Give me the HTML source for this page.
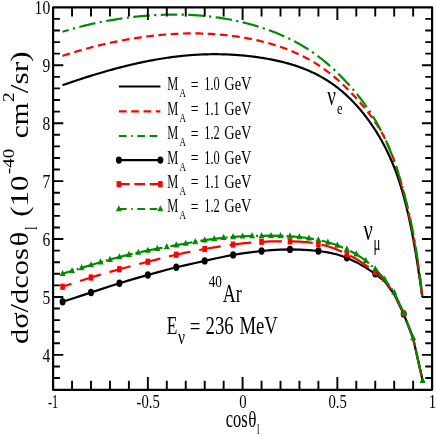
<!DOCTYPE html><html><head><meta charset="utf-8"><style>html,body{margin:0;padding:0;background:#fff}svg{display:block;will-change:transform}</style></head><body><svg width="436" height="436" viewBox="0 0 436 436">
<rect x="0" y="0" width="436" height="436" fill="#fff"/>
<path d="M62.50 85.21 L64.30 84.58 L66.10 83.95 L67.89 83.34 L69.68 82.72 L71.46 82.12 L73.24 81.52 L75.01 80.92 L76.78 80.33 L78.55 79.75 L80.31 79.17 L82.07 78.60 L83.82 78.03 L85.56 77.47 L87.31 76.92 L89.04 76.37 L90.78 75.83 L92.51 75.29 L94.23 74.77 L95.95 74.24 L97.67 73.72 L99.38 73.21 L101.08 72.71 L102.79 72.21 L104.48 71.72 L106.18 71.23 L107.86 70.75 L109.55 70.28 L111.23 69.82 L112.90 69.36 L114.57 68.90 L116.24 68.46 L117.90 68.02 L119.55 67.58 L121.21 67.16 L122.85 66.74 L124.50 66.32 L126.14 65.92 L127.77 65.52 L129.40 65.12 L131.02 64.74 L132.64 64.36 L134.26 63.99 L135.87 63.62 L137.48 63.26 L139.08 62.91 L140.68 62.57 L142.27 62.23 L143.86 61.90 L145.45 61.58 L147.03 61.26 L148.60 60.95 L150.17 60.65 L151.74 60.35 L153.30 60.06 L154.86 59.78 L156.41 59.51 L157.96 59.24 L159.50 58.98 L161.04 58.73 L162.57 58.48 L164.10 58.24 L165.63 58.01 L167.15 57.78 L168.67 57.56 L170.18 57.35 L171.69 57.15 L173.19 56.95 L174.69 56.76 L176.18 56.58 L177.67 56.40 L179.16 56.23 L180.64 56.07 L182.11 55.91 L183.58 55.76 L185.05 55.62 L186.51 55.49 L187.97 55.36 L189.42 55.24 L190.87 55.12 L192.32 55.02 L193.76 54.92 L195.19 54.82 L196.62 54.74 L198.05 54.66 L199.47 54.58 L200.89 54.51 L202.30 54.45 L203.71 54.40 L205.11 54.35 L206.51 54.31 L207.90 54.28 L209.29 54.25 L210.68 54.23 L212.06 54.21 L213.44 54.20 L214.81 54.20 L216.18 54.20 L217.54 54.21 L218.90 54.23 L220.25 54.25 L221.60 54.28 L222.94 54.31 L224.28 54.35 L225.62 54.39 L226.95 54.44 L228.28 54.50 L229.60 54.56 L230.92 54.63 L232.23 54.70 L233.54 54.78 L234.84 54.86 L236.14 54.95 L237.44 55.05 L238.73 55.14 L240.01 55.25 L241.30 55.36 L242.57 55.47 L243.85 55.59 L245.11 55.71 L246.38 55.84 L247.64 55.97 L248.89 56.11 L250.14 56.25 L251.38 56.40 L252.63 56.55 L253.86 56.71 L255.09 56.87 L256.32 57.04 L257.54 57.21 L258.76 57.38 L259.98 57.56 L261.18 57.75 L262.39 57.94 L263.59 58.13 L264.78 58.33 L265.98 58.54 L267.16 58.74 L268.34 58.96 L269.52 59.18 L270.69 59.40 L271.86 59.63 L273.03 59.86 L274.19 60.10 L275.34 60.34 L276.49 60.59 L277.64 60.84 L278.78 61.10 L279.92 61.36 L281.05 61.63 L282.18 61.91 L283.30 62.19 L284.42 62.48 L285.53 62.77 L286.64 63.07 L287.75 63.37 L288.85 63.68 L289.94 64.00 L291.03 64.32 L292.12 64.65 L293.20 64.98 L294.28 65.32 L295.36 65.67 L296.43 66.03 L297.49 66.39 L298.55 66.75 L299.60 67.13 L300.66 67.51 L301.70 67.89 L302.74 68.29 L303.78 68.69 L304.81 69.10 L305.84 69.51 L306.87 69.93 L307.89 70.36 L308.90 70.80 L309.91 71.24 L310.92 71.69 L311.92 72.15 L312.91 72.62 L313.91 73.09 L314.89 73.57 L315.88 74.06 L316.86 74.56 L317.83 75.06 L318.80 75.57 L319.76 76.09 L320.72 76.62 L321.68 77.15 L322.63 77.70 L323.58 78.25 L324.52 78.81 L325.46 79.37 L326.39 79.95 L327.32 80.53 L328.25 81.12 L329.17 81.72 L330.08 82.33 L330.99 82.94 L331.90 83.56 L332.80 84.19 L333.70 84.83 L334.59 85.48 L335.48 86.14 L336.36 86.80 L337.24 87.47 L338.12 88.15 L338.99 88.84 L339.85 89.53 L340.71 90.24 L341.57 90.95 L342.42 91.67 L343.27 92.40 L344.11 93.13 L344.95 93.88 L345.78 94.63 L346.61 95.39 L347.44 96.15 L348.26 96.93 L349.07 97.71 L349.89 98.50 L350.69 99.30 L351.50 100.10 L352.29 100.91 L353.09 101.73 L353.88 102.56 L354.66 103.39 L355.44 104.23 L356.21 105.08 L356.98 105.93 L357.75 106.79 L358.51 107.66 L359.27 108.53 L360.02 109.41 L360.77 110.29 L361.51 111.19 L362.25 112.09 L362.99 112.99 L363.72 113.90 L364.44 114.82 L365.16 115.74 L365.88 116.67 L366.59 117.61 L367.30 118.55 L368.00 119.50 L368.70 120.45 L369.39 121.41 L370.08 122.38 L370.77 123.35 L371.45 124.33 L372.12 125.31 L372.80 126.30 L373.46 127.30 L374.13 128.30 L374.78 129.31 L375.44 130.33 L376.08 131.35 L376.73 132.37 L377.37 133.41 L378.00 134.45 L378.63 135.49 L379.26 136.55 L379.88 137.61 L380.50 138.68 L381.11 139.75 L381.72 140.83 L382.32 141.92 L382.92 143.02 L383.52 144.12 L384.11 145.23 L384.69 146.35 L385.27 147.48 L385.85 148.61 L386.42 149.76 L386.99 150.91 L387.55 152.07 L388.11 153.24 L388.66 154.42 L389.21 155.61 L389.76 156.81 L390.30 158.01 L390.83 159.23 L391.36 160.46 L391.89 161.70 L392.41 162.94 L392.93 164.20 L393.44 165.47 L393.95 166.74 L394.45 168.03 L394.95 169.33 L395.45 170.64 L395.94 171.96 L396.42 173.29 L396.91 174.63 L397.38 175.98 L397.86 177.34 L398.32 178.71 L398.79 180.10 L399.25 181.49 L399.70 182.89 L400.15 184.30 L400.59 185.72 L401.04 187.16 L401.47 188.60 L401.90 190.05 L402.33 191.51 L402.75 192.98 L403.17 194.46 L403.58 195.94 L403.99 197.44 L404.40 198.94 L404.80 200.46 L405.19 201.97 L405.58 203.50 L405.97 205.03 L406.35 206.57 L406.73 208.12 L407.10 209.67 L407.47 211.23 L407.84 212.79 L408.20 214.35 L408.55 215.92 L408.90 217.49 L409.25 219.07 L409.59 220.65 L409.92 222.23 L410.26 223.81 L410.58 225.39 L410.91 226.97 L411.23 228.55 L411.54 230.12 L411.85 231.70 L412.15 233.27 L412.46 234.84 L412.75 236.41 L413.04 237.97 L413.33 239.52 L413.61 241.07 L413.89 242.61 L414.16 244.15 L414.43 245.67 L414.70 247.19 L414.96 248.69 L415.21 250.18 L415.46 251.67 L415.71 253.14 L415.95 254.59 L416.19 256.03 L416.42 257.46 L416.65 258.87 L416.87 260.26 L417.09 261.64 L417.31 263.00 L417.52 264.34 L417.72 265.66 L417.92 266.96 L418.12 268.24 L418.31 269.50 L418.50 270.73 L418.68 271.94 L418.86 273.13 L419.04 274.29 L419.21 275.43 L419.37 276.55 L419.53 277.63 L419.69 278.69 L419.84 279.73 L419.99 280.74 L420.13 281.71 L420.27 282.66 L420.40 283.59 L420.53 284.48 L420.65 285.34 L420.77 286.17 L420.89 286.98 L421.00 287.75 L421.10 288.49 L421.21 289.21 L421.30 289.89 L421.40 290.54 L421.48 291.15 L421.57 291.74 L421.65 292.30 L421.72 292.82 L421.79 293.32 L421.86 293.78 L421.92 294.21 L421.97 294.60 L422.03 294.97 L422.07 295.30 L422.12 295.61 L422.16 295.88 L422.19 296.11 L422.22 296.32 L422.24 296.50 L422.26 296.64 L422.28 296.75 L422.29 296.83 L422.30 296.88 L422.30 296.89" fill="none" stroke="#000" stroke-width="2.20" stroke-linejoin="round"/>
<path d="M62.50 55.90 L64.30 55.31 L66.10 54.73 L67.89 54.15 L69.68 53.59 L71.46 53.04 L73.24 52.49 L75.01 51.95 L76.78 51.43 L78.55 50.91 L80.31 50.40 L82.07 49.90 L83.82 49.40 L85.56 48.92 L87.31 48.44 L89.04 47.97 L90.78 47.51 L92.51 47.06 L94.23 46.62 L95.95 46.18 L97.67 45.76 L99.38 45.34 L101.08 44.93 L102.79 44.52 L104.48 44.13 L106.18 43.74 L107.86 43.36 L109.55 42.99 L111.23 42.63 L112.90 42.27 L114.57 41.92 L116.24 41.58 L117.90 41.24 L119.55 40.92 L121.21 40.60 L122.85 40.28 L124.50 39.98 L126.14 39.68 L127.77 39.39 L129.40 39.11 L131.02 38.83 L132.64 38.56 L134.26 38.30 L135.87 38.04 L137.48 37.79 L139.08 37.55 L140.68 37.32 L142.27 37.09 L143.86 36.87 L145.45 36.66 L147.03 36.45 L148.60 36.25 L150.17 36.06 L151.74 35.87 L153.30 35.69 L154.86 35.52 L156.41 35.35 L157.96 35.19 L159.50 35.04 L161.04 34.90 L162.57 34.76 L164.10 34.63 L165.63 34.50 L167.15 34.38 L168.67 34.27 L170.18 34.17 L171.69 34.07 L173.19 33.98 L174.69 33.89 L176.18 33.81 L177.67 33.74 L179.16 33.68 L180.64 33.62 L182.11 33.57 L183.58 33.52 L185.05 33.48 L186.51 33.45 L187.97 33.43 L189.42 33.41 L190.87 33.40 L192.32 33.39 L193.76 33.39 L195.19 33.40 L196.62 33.41 L198.05 33.43 L199.47 33.45 L200.89 33.49 L202.30 33.53 L203.71 33.57 L205.11 33.62 L206.51 33.68 L207.90 33.74 L209.29 33.81 L210.68 33.89 L212.06 33.97 L213.44 34.06 L214.81 34.15 L216.18 34.25 L217.54 34.36 L218.90 34.47 L220.25 34.58 L221.60 34.71 L222.94 34.84 L224.28 34.97 L225.62 35.11 L226.95 35.26 L228.28 35.41 L229.60 35.57 L230.92 35.73 L232.23 35.90 L233.54 36.08 L234.84 36.26 L236.14 36.44 L237.44 36.63 L238.73 36.83 L240.01 37.03 L241.30 37.24 L242.57 37.45 L243.85 37.67 L245.11 37.89 L246.38 38.12 L247.64 38.35 L248.89 38.59 L250.14 38.84 L251.38 39.08 L252.63 39.34 L253.86 39.60 L255.09 39.86 L256.32 40.13 L257.54 40.41 L258.76 40.69 L259.98 40.98 L261.18 41.27 L262.39 41.57 L263.59 41.87 L264.78 42.18 L265.98 42.49 L267.16 42.81 L268.34 43.13 L269.52 43.46 L270.69 43.79 L271.86 44.13 L273.03 44.48 L274.19 44.83 L275.34 45.19 L276.49 45.55 L277.64 45.92 L278.78 46.30 L279.92 46.68 L281.05 47.07 L282.18 47.46 L283.30 47.86 L284.42 48.26 L285.53 48.68 L286.64 49.09 L287.75 49.52 L288.85 49.95 L289.94 50.39 L291.03 50.83 L292.12 51.28 L293.20 51.74 L294.28 52.20 L295.36 52.67 L296.43 53.15 L297.49 53.63 L298.55 54.12 L299.60 54.62 L300.66 55.13 L301.70 55.64 L302.74 56.15 L303.78 56.68 L304.81 57.21 L305.84 57.75 L306.87 58.30 L307.89 58.85 L308.90 59.41 L309.91 59.98 L310.92 60.55 L311.92 61.14 L312.91 61.72 L313.91 62.32 L314.89 62.92 L315.88 63.53 L316.86 64.15 L317.83 64.77 L318.80 65.41 L319.76 66.04 L320.72 66.69 L321.68 67.34 L322.63 68.00 L323.58 68.67 L324.52 69.34 L325.46 70.02 L326.39 70.70 L327.32 71.40 L328.25 72.10 L329.17 72.80 L330.08 73.51 L330.99 74.23 L331.90 74.96 L332.80 75.69 L333.70 76.43 L334.59 77.17 L335.48 77.92 L336.36 78.68 L337.24 79.44 L338.12 80.21 L338.99 80.98 L339.85 81.76 L340.71 82.54 L341.57 83.33 L342.42 84.12 L343.27 84.92 L344.11 85.72 L344.95 86.53 L345.78 87.34 L346.61 88.15 L347.44 88.97 L348.26 89.79 L349.07 90.62 L349.89 91.45 L350.69 92.28 L351.50 93.12 L352.29 93.95 L353.09 94.80 L353.88 95.64 L354.66 96.49 L355.44 97.34 L356.21 98.19 L356.98 99.05 L357.75 99.91 L358.51 100.77 L359.27 101.63 L360.02 102.50 L360.77 103.36 L361.51 104.24 L362.25 105.11 L362.99 105.99 L363.72 106.87 L364.44 107.75 L365.16 108.64 L365.88 109.53 L366.59 110.42 L367.30 111.32 L368.00 112.22 L368.70 113.12 L369.39 114.03 L370.08 114.94 L370.77 115.86 L371.45 116.79 L372.12 117.72 L372.80 118.65 L373.46 119.59 L374.13 120.54 L374.78 121.50 L375.44 122.46 L376.08 123.43 L376.73 124.41 L377.37 125.40 L378.00 126.40 L378.63 127.41 L379.26 128.43 L379.88 129.46 L380.50 130.50 L381.11 131.56 L381.72 132.63 L382.32 133.71 L382.92 134.81 L383.52 135.92 L384.11 137.05 L384.69 138.19 L385.27 139.34 L385.85 140.52 L386.42 141.70 L386.99 142.91 L387.55 144.13 L388.11 145.36 L388.66 146.61 L389.21 147.88 L389.76 149.17 L390.30 150.47 L390.83 151.79 L391.36 153.12 L391.89 154.47 L392.41 155.84 L392.93 157.22 L393.44 158.61 L393.95 160.02 L394.45 161.45 L394.95 162.89 L395.45 164.34 L395.94 165.81 L396.42 167.29 L396.91 168.77 L397.38 170.28 L397.86 171.79 L398.32 173.31 L398.79 174.84 L399.25 176.37 L399.70 177.92 L400.15 179.47 L400.59 181.03 L401.04 182.60 L401.47 184.17 L401.90 185.74 L402.33 187.32 L402.75 188.91 L403.17 190.50 L403.58 192.09 L403.99 193.68 L404.40 195.28 L404.80 196.87 L405.19 198.47 L405.58 200.07 L405.97 201.67 L406.35 203.26 L406.73 204.86 L407.10 206.46 L407.47 208.05 L407.84 209.65 L408.20 211.24 L408.55 212.83 L408.90 214.42 L409.25 216.00 L409.59 217.58 L409.92 219.16 L410.26 220.73 L410.58 222.30 L410.91 223.87 L411.23 225.43 L411.54 226.99 L411.85 228.54 L412.15 230.08 L412.46 231.62 L412.75 233.16 L413.04 234.69 L413.33 236.21 L413.61 237.72 L413.89 239.23 L414.16 240.73 L414.43 242.22 L414.70 243.70 L414.96 245.17 L415.21 246.64 L415.46 248.09 L415.71 249.53 L415.95 250.97 L416.19 252.39 L416.42 253.80 L416.65 255.20 L416.87 256.59 L417.09 257.96 L417.31 259.32 L417.52 260.67 L417.72 262.00 L417.92 263.32 L418.12 264.62 L418.31 265.91 L418.50 267.18 L418.68 268.43 L418.86 269.67 L419.04 270.88 L419.21 272.08 L419.37 273.25 L419.53 274.41 L419.69 275.55 L419.84 276.66 L419.99 277.75 L420.13 278.82 L420.27 279.86 L420.40 280.88 L420.53 281.87 L420.65 282.83 L420.77 283.77 L420.89 284.68 L421.00 285.57 L421.10 286.42 L421.21 287.24 L421.30 288.04 L421.40 288.80 L421.48 289.53 L421.57 290.22 L421.65 290.88 L421.72 291.51 L421.79 292.11 L421.86 292.67 L421.92 293.19 L421.97 293.67 L422.03 294.12 L422.07 294.54 L422.12 294.91 L422.16 295.25 L422.19 295.54 L422.22 295.80 L422.24 296.02 L422.26 296.20 L422.28 296.34 L422.29 296.44 L422.30 296.50 L422.30 296.52" fill="none" stroke="#ff0000" stroke-width="2.20" stroke-linejoin="round" stroke-dasharray="7.7 4.6" stroke-dashoffset="0"/>
<path d="M62.50 31.82 L64.30 31.26 L66.10 30.71 L67.89 30.18 L69.68 29.65 L71.46 29.14 L73.24 28.64 L75.01 28.14 L76.78 27.66 L78.55 27.19 L80.31 26.73 L82.07 26.28 L83.82 25.85 L85.56 25.42 L87.31 25.00 L89.04 24.59 L90.78 24.19 L92.51 23.80 L94.23 23.42 L95.95 23.05 L97.67 22.69 L99.38 22.33 L101.08 21.99 L102.79 21.66 L104.48 21.33 L106.18 21.01 L107.86 20.71 L109.55 20.41 L111.23 20.12 L112.90 19.83 L114.57 19.56 L116.24 19.29 L117.90 19.03 L119.55 18.78 L121.21 18.54 L122.85 18.30 L124.50 18.08 L126.14 17.86 L127.77 17.65 L129.40 17.44 L131.02 17.24 L132.64 17.05 L134.26 16.87 L135.87 16.69 L137.48 16.53 L139.08 16.37 L140.68 16.21 L142.27 16.06 L143.86 15.92 L145.45 15.79 L147.03 15.66 L148.60 15.55 L150.17 15.43 L151.74 15.33 L153.30 15.23 L154.86 15.14 L156.41 15.05 L157.96 14.97 L159.50 14.90 L161.04 14.84 L162.57 14.78 L164.10 14.73 L165.63 14.69 L167.15 14.65 L168.67 14.62 L170.18 14.60 L171.69 14.58 L173.19 14.57 L174.69 14.57 L176.18 14.57 L177.67 14.58 L179.16 14.59 L180.64 14.62 L182.11 14.65 L183.58 14.68 L185.05 14.73 L186.51 14.78 L187.97 14.83 L189.42 14.90 L190.87 14.96 L192.32 15.04 L193.76 15.12 L195.19 15.21 L196.62 15.31 L198.05 15.41 L199.47 15.52 L200.89 15.63 L202.30 15.75 L203.71 15.88 L205.11 16.01 L206.51 16.15 L207.90 16.30 L209.29 16.45 L210.68 16.61 L212.06 16.78 L213.44 16.95 L214.81 17.13 L216.18 17.31 L217.54 17.50 L218.90 17.70 L220.25 17.90 L221.60 18.11 L222.94 18.32 L224.28 18.54 L225.62 18.77 L226.95 19.00 L228.28 19.24 L229.60 19.49 L230.92 19.74 L232.23 19.99 L233.54 20.26 L234.84 20.52 L236.14 20.80 L237.44 21.08 L238.73 21.36 L240.01 21.66 L241.30 21.95 L242.57 22.26 L243.85 22.57 L245.11 22.88 L246.38 23.20 L247.64 23.53 L248.89 23.86 L250.14 24.20 L251.38 24.54 L252.63 24.89 L253.86 25.25 L255.09 25.61 L256.32 25.97 L257.54 26.34 L258.76 26.72 L259.98 27.10 L261.18 27.49 L262.39 27.88 L263.59 28.28 L264.78 28.68 L265.98 29.09 L267.16 29.51 L268.34 29.93 L269.52 30.36 L270.69 30.79 L271.86 31.23 L273.03 31.67 L274.19 32.12 L275.34 32.57 L276.49 33.03 L277.64 33.50 L278.78 33.97 L279.92 34.45 L281.05 34.94 L282.18 35.43 L283.30 35.92 L284.42 36.42 L285.53 36.93 L286.64 37.45 L287.75 37.97 L288.85 38.50 L289.94 39.03 L291.03 39.57 L292.12 40.12 L293.20 40.67 L294.28 41.23 L295.36 41.80 L296.43 42.37 L297.49 42.95 L298.55 43.54 L299.60 44.13 L300.66 44.73 L301.70 45.34 L302.74 45.96 L303.78 46.58 L304.81 47.21 L305.84 47.84 L306.87 48.49 L307.89 49.14 L308.90 49.80 L309.91 50.46 L310.92 51.13 L311.92 51.81 L312.91 52.50 L313.91 53.20 L314.89 53.90 L315.88 54.61 L316.86 55.32 L317.83 56.04 L318.80 56.77 L319.76 57.51 L320.72 58.25 L321.68 59.01 L322.63 59.76 L323.58 60.53 L324.52 61.30 L325.46 62.07 L326.39 62.86 L327.32 63.65 L328.25 64.44 L329.17 65.24 L330.08 66.05 L330.99 66.86 L331.90 67.68 L332.80 68.50 L333.70 69.33 L334.59 70.17 L335.48 71.00 L336.36 71.85 L337.24 72.69 L338.12 73.55 L338.99 74.40 L339.85 75.26 L340.71 76.13 L341.57 76.99 L342.42 77.87 L343.27 78.74 L344.11 79.62 L344.95 80.51 L345.78 81.39 L346.61 82.28 L347.44 83.18 L348.26 84.07 L349.07 84.98 L349.89 85.88 L350.69 86.79 L351.50 87.70 L352.29 88.62 L353.09 89.53 L353.88 90.46 L354.66 91.38 L355.44 92.31 L356.21 93.25 L356.98 94.19 L357.75 95.13 L358.51 96.08 L359.27 97.03 L360.02 97.98 L360.77 98.95 L361.51 99.91 L362.25 100.88 L362.99 101.86 L363.72 102.84 L364.44 103.83 L365.16 104.83 L365.88 105.83 L366.59 106.83 L367.30 107.84 L368.00 108.86 L368.70 109.89 L369.39 110.92 L370.08 111.96 L370.77 113.01 L371.45 114.06 L372.12 115.12 L372.80 116.19 L373.46 117.27 L374.13 118.35 L374.78 119.44 L375.44 120.54 L376.08 121.65 L376.73 122.76 L377.37 123.89 L378.00 125.02 L378.63 126.16 L379.26 127.31 L379.88 128.47 L380.50 129.64 L381.11 130.82 L381.72 132.00 L382.32 133.20 L382.92 134.40 L383.52 135.61 L384.11 136.84 L384.69 138.07 L385.27 139.31 L385.85 140.56 L386.42 141.82 L386.99 143.09 L387.55 144.37 L388.11 145.66 L388.66 146.96 L389.21 148.27 L389.76 149.59 L390.30 150.92 L390.83 152.26 L391.36 153.60 L391.89 154.96 L392.41 156.32 L392.93 157.70 L393.44 159.08 L393.95 160.48 L394.45 161.88 L394.95 163.29 L395.45 164.71 L395.94 166.13 L396.42 167.57 L396.91 169.01 L397.38 170.46 L397.86 171.92 L398.32 173.38 L398.79 174.85 L399.25 176.33 L399.70 177.81 L400.15 179.30 L400.59 180.80 L401.04 182.30 L401.47 183.80 L401.90 185.31 L402.33 186.82 L402.75 188.33 L403.17 189.85 L403.58 191.37 L403.99 192.89 L404.40 194.41 L404.80 195.93 L405.19 197.46 L405.58 198.98 L405.97 200.51 L406.35 202.03 L406.73 203.56 L407.10 205.09 L407.47 206.61 L407.84 208.14 L408.20 209.67 L408.55 211.19 L408.90 212.72 L409.25 214.24 L409.59 215.77 L409.92 217.30 L410.26 218.82 L410.58 220.34 L410.91 221.87 L411.23 223.39 L411.54 224.91 L411.85 226.44 L412.15 227.96 L412.46 229.48 L412.75 231.00 L413.04 232.51 L413.33 234.03 L413.61 235.54 L413.89 237.05 L414.16 238.56 L414.43 240.06 L414.70 241.56 L414.96 243.06 L415.21 244.54 L415.46 246.03 L415.71 247.51 L415.95 248.98 L416.19 250.44 L416.42 251.89 L416.65 253.34 L416.87 254.78 L417.09 256.20 L417.31 257.62 L417.52 259.02 L417.72 260.41 L417.92 261.78 L418.12 263.15 L418.31 264.49 L418.50 265.82 L418.68 267.14 L418.86 268.43 L419.04 269.71 L419.21 270.96 L419.37 272.20 L419.53 273.41 L419.69 274.61 L419.84 275.78 L419.99 276.92 L420.13 278.04 L420.27 279.13 L420.40 280.20 L420.53 281.24 L420.65 282.25 L420.77 283.23 L420.89 284.19 L421.00 285.11 L421.10 286.00 L421.21 286.85 L421.30 287.68 L421.40 288.47 L421.48 289.23 L421.57 289.95 L421.65 290.63 L421.72 291.28 L421.79 291.90 L421.86 292.47 L421.92 293.01 L421.97 293.51 L422.03 293.97 L422.07 294.40 L422.12 294.78 L422.16 295.13 L422.19 295.43 L422.22 295.70 L422.24 295.92 L422.26 296.10 L422.28 296.25 L422.29 296.35 L422.30 296.41 L422.30 296.43" fill="none" stroke="#008a00" stroke-width="2.20" stroke-linejoin="round" stroke-dasharray="16.5 4.4 2.2 4.4" stroke-dashoffset="10"/>
<path d="M62.58 301.75 L72.05 298.76 L81.53 295.66 L91.00 292.50 L100.48 289.34 L109.95 286.24 L119.43 283.25 L128.90 280.41 L138.38 277.68 L147.85 275.00 L157.33 272.33 L166.80 269.74 L176.28 267.30 L185.75 265.07 L195.23 262.97 L204.70 260.90 L214.18 258.80 L223.65 256.76 L233.13 254.90 L242.60 253.33 L252.08 252.04 L261.55 251.00 L271.03 250.18 L280.50 249.63 L289.98 249.40 L299.45 249.54 L308.93 250.07 L318.40 251.00 L327.88 252.39 L337.35 254.51 L346.83 257.70 L356.30 262.16 L365.78 267.65 L375.25 273.80 L384.73 281.30 L394.20 294.30 L403.68 313.90 L413.15 338.60 L422.62 380.60" fill="none" stroke="#000" stroke-width="2.20" stroke-linejoin="round"/>
<path d="M62.58 286.75 L72.05 283.55 L81.53 280.47 L91.00 277.50 L100.48 274.65 L109.95 271.90 L119.43 269.25 L128.90 266.70 L138.38 264.21 L147.85 261.75 L157.33 259.31 L166.80 256.94 L176.28 254.70 L185.75 252.64 L195.23 250.74 L204.70 249.00 L214.18 247.39 L223.65 245.92 L233.13 244.60 L242.60 243.44 L252.08 242.49 L261.55 241.80 L271.03 241.42 L280.50 241.30 L289.98 241.40 L299.45 241.71 L308.93 242.45 L318.40 243.90 L327.88 246.29 L337.35 249.64 L346.83 253.90 L356.30 259.04 L365.78 265.07 L375.25 272.00 L384.73 280.40 L394.20 293.40 L403.68 313.50 L413.15 338.20 L422.62 380.60" fill="none" stroke="#ff0000" stroke-width="2.20" stroke-linejoin="round" stroke-dasharray="21.8 9" stroke-dashoffset="12.4"/>
<path d="M62.58 273.75 L72.05 270.81 L81.53 267.88 L91.00 265.00 L100.48 262.20 L109.95 259.52 L119.43 257.00 L128.90 254.66 L138.38 252.49 L147.85 250.50 L157.33 248.66 L166.80 246.92 L176.28 245.20 L185.75 243.47 L195.23 241.78 L204.70 240.20 L214.18 238.81 L223.65 237.66 L233.13 236.80 L242.60 236.26 L252.08 235.96 L261.55 235.80 L271.03 235.72 L280.50 235.81 L289.98 236.20 L299.45 237.00 L308.93 238.25 L318.40 240.00 L327.88 242.30 L337.35 245.31 L346.83 249.20 L356.30 254.18 L365.78 260.64 L375.25 269.00 L384.73 279.30 L394.20 292.30 L403.68 313.10 L413.15 337.80 L422.62 380.60" fill="none" stroke="#008a00" stroke-width="2.20" stroke-linejoin="round" stroke-dasharray="22.5 3 2 3" stroke-dashoffset="10.7"/>
<ellipse cx="62.58" cy="301.75" rx="3.0" ry="3.7" fill="#000"/>
<ellipse cx="91.00" cy="292.50" rx="3.0" ry="3.7" fill="#000"/>
<ellipse cx="119.43" cy="283.25" rx="3.0" ry="3.7" fill="#000"/>
<ellipse cx="147.85" cy="275.00" rx="3.0" ry="3.7" fill="#000"/>
<ellipse cx="176.28" cy="267.30" rx="3.0" ry="3.7" fill="#000"/>
<ellipse cx="204.70" cy="260.90" rx="3.0" ry="3.7" fill="#000"/>
<ellipse cx="233.13" cy="254.90" rx="3.0" ry="3.7" fill="#000"/>
<ellipse cx="261.55" cy="251.00" rx="3.0" ry="3.7" fill="#000"/>
<ellipse cx="289.98" cy="249.40" rx="3.0" ry="3.7" fill="#000"/>
<ellipse cx="318.40" cy="251.00" rx="3.0" ry="3.7" fill="#000"/>
<ellipse cx="346.83" cy="257.70" rx="3.0" ry="3.7" fill="#000"/>
<ellipse cx="375.25" cy="273.80" rx="3.0" ry="3.7" fill="#000"/>
<ellipse cx="403.68" cy="313.90" rx="3.0" ry="3.7" fill="#000"/>
<rect x="60.28" y="283.65" width="4.6" height="6.2" fill="#ff0000"/>
<rect x="88.70" y="274.40" width="4.6" height="6.2" fill="#ff0000"/>
<rect x="117.13" y="266.15" width="4.6" height="6.2" fill="#ff0000"/>
<rect x="145.55" y="258.65" width="4.6" height="6.2" fill="#ff0000"/>
<rect x="173.98" y="251.60" width="4.6" height="6.2" fill="#ff0000"/>
<rect x="202.40" y="245.90" width="4.6" height="6.2" fill="#ff0000"/>
<rect x="230.83" y="241.50" width="4.6" height="6.2" fill="#ff0000"/>
<rect x="259.25" y="238.70" width="4.6" height="6.2" fill="#ff0000"/>
<rect x="287.68" y="238.30" width="4.6" height="6.2" fill="#ff0000"/>
<rect x="316.10" y="240.80" width="4.6" height="6.2" fill="#ff0000"/>
<rect x="344.53" y="250.80" width="4.6" height="6.2" fill="#ff0000"/>
<rect x="372.95" y="268.90" width="4.6" height="6.2" fill="#ff0000"/>
<rect x="401.38" y="310.40" width="4.6" height="6.2" fill="#ff0000"/>
<path d="M62.58 269.91 L59.58 276.11 L65.58 276.11 Z" fill="#008a00"/>
<path d="M72.05 266.96 L69.05 273.16 L75.05 273.16 Z" fill="#008a00"/>
<path d="M81.53 264.04 L78.53 270.24 L84.53 270.24 Z" fill="#008a00"/>
<path d="M91.00 261.16 L88.00 267.36 L94.00 267.36 Z" fill="#008a00"/>
<path d="M100.48 258.36 L97.48 264.56 L103.48 264.56 Z" fill="#008a00"/>
<path d="M109.95 255.68 L106.95 261.88 L112.95 261.88 Z" fill="#008a00"/>
<path d="M119.43 253.16 L116.43 259.36 L122.43 259.36 Z" fill="#008a00"/>
<path d="M128.90 250.81 L125.90 257.01 L131.90 257.01 Z" fill="#008a00"/>
<path d="M138.38 248.65 L135.38 254.85 L141.38 254.85 Z" fill="#008a00"/>
<path d="M147.85 246.66 L144.85 252.86 L150.85 252.86 Z" fill="#008a00"/>
<path d="M157.33 244.82 L154.33 251.02 L160.33 251.02 Z" fill="#008a00"/>
<path d="M166.80 243.07 L163.80 249.27 L169.80 249.27 Z" fill="#008a00"/>
<path d="M176.28 241.36 L173.28 247.56 L179.28 247.56 Z" fill="#008a00"/>
<path d="M185.75 239.63 L182.75 245.83 L188.75 245.83 Z" fill="#008a00"/>
<path d="M195.23 237.93 L192.23 244.13 L198.23 244.13 Z" fill="#008a00"/>
<path d="M204.70 236.36 L201.70 242.56 L207.70 242.56 Z" fill="#008a00"/>
<path d="M214.18 234.96 L211.18 241.16 L217.18 241.16 Z" fill="#008a00"/>
<path d="M223.65 233.81 L220.65 240.01 L226.65 240.01 Z" fill="#008a00"/>
<path d="M233.13 232.96 L230.13 239.16 L236.13 239.16 Z" fill="#008a00"/>
<path d="M242.60 232.41 L239.60 238.61 L245.60 238.61 Z" fill="#008a00"/>
<path d="M252.08 232.11 L249.08 238.31 L255.08 238.31 Z" fill="#008a00"/>
<path d="M261.55 231.96 L258.55 238.16 L264.55 238.16 Z" fill="#008a00"/>
<path d="M271.03 231.88 L268.03 238.08 L274.03 238.08 Z" fill="#008a00"/>
<path d="M280.50 231.97 L277.50 238.17 L283.50 238.17 Z" fill="#008a00"/>
<path d="M289.98 232.36 L286.98 238.56 L292.98 238.56 Z" fill="#008a00"/>
<path d="M299.45 233.15 L296.45 239.35 L302.45 239.35 Z" fill="#008a00"/>
<path d="M308.93 234.41 L305.93 240.61 L311.93 240.61 Z" fill="#008a00"/>
<path d="M318.40 236.16 L315.40 242.36 L321.40 242.36 Z" fill="#008a00"/>
<path d="M327.88 238.46 L324.88 244.66 L330.88 244.66 Z" fill="#008a00"/>
<path d="M337.35 241.47 L334.35 247.67 L340.35 247.67 Z" fill="#008a00"/>
<path d="M346.83 245.36 L343.83 251.56 L349.83 251.56 Z" fill="#008a00"/>
<path d="M356.30 250.34 L353.30 256.54 L359.30 256.54 Z" fill="#008a00"/>
<path d="M365.78 256.80 L362.78 263.00 L368.78 263.00 Z" fill="#008a00"/>
<path d="M375.25 265.16 L372.25 271.36 L378.25 271.36 Z" fill="#008a00"/>
<path d="M384.73 275.46 L381.73 281.66 L387.73 281.66 Z" fill="#008a00"/>
<path d="M394.20 288.46 L391.20 294.66 L397.20 294.66 Z" fill="#008a00"/>
<path d="M403.68 309.26 L400.68 315.46 L406.68 315.46 Z" fill="#008a00"/>
<path d="M413.15 333.96 L410.15 340.16 L416.15 340.16 Z" fill="#008a00"/>
<path d="M422.62 376.76 L419.62 382.96 L425.62 382.96 Z" fill="#008a00"/>
<rect x="53.10" y="7.30" width="379.00" height="382.50" fill="none" stroke="#000" stroke-width="2.2" stroke-linejoin="round"/>
<path d="M72.05 389.80 v-9.10 M72.05 7.30 v9.10 M91.00 389.80 v-9.10 M91.00 7.30 v9.10 M109.95 389.80 v-9.10 M109.95 7.30 v9.10 M128.90 389.80 v-9.10 M128.90 7.30 v9.10 M147.85 389.80 v-12.80 M147.85 7.30 v12.80 M166.80 389.80 v-9.10 M166.80 7.30 v9.10 M185.75 389.80 v-9.10 M185.75 7.30 v9.10 M204.70 389.80 v-9.10 M204.70 7.30 v9.10 M223.65 389.80 v-9.10 M223.65 7.30 v9.10 M242.60 389.80 v-12.80 M242.60 7.30 v12.80 M261.55 389.80 v-9.10 M261.55 7.30 v9.10 M280.50 389.80 v-9.10 M280.50 7.30 v9.10 M299.45 389.80 v-9.10 M299.45 7.30 v9.10 M318.40 389.80 v-9.10 M318.40 7.30 v9.10 M337.35 389.80 v-12.80 M337.35 7.30 v12.80 M356.30 389.80 v-9.10 M356.30 7.30 v9.10 M375.25 389.80 v-9.10 M375.25 7.30 v9.10 M394.20 389.80 v-9.10 M394.20 7.30 v9.10 M413.15 389.80 v-9.10 M413.15 7.30 v9.10 M53.10 378.07 h6.80 M432.10 378.07 h-6.80 M53.10 366.49 h6.80 M432.10 366.49 h-6.80 M53.10 354.90 h10.20 M432.10 354.90 h-10.20 M53.10 343.31 h6.80 M432.10 343.31 h-6.80 M53.10 331.73 h6.80 M432.10 331.73 h-6.80 M53.10 320.14 h6.80 M432.10 320.14 h-6.80 M53.10 308.56 h6.80 M432.10 308.56 h-6.80 M53.10 296.97 h10.20 M432.10 296.97 h-10.20 M53.10 285.38 h6.80 M432.10 285.38 h-6.80 M53.10 273.80 h6.80 M432.10 273.80 h-6.80 M53.10 262.21 h6.80 M432.10 262.21 h-6.80 M53.10 250.63 h6.80 M432.10 250.63 h-6.80 M53.10 239.04 h10.20 M432.10 239.04 h-10.20 M53.10 227.45 h6.80 M432.10 227.45 h-6.80 M53.10 215.87 h6.80 M432.10 215.87 h-6.80 M53.10 204.28 h6.80 M432.10 204.28 h-6.80 M53.10 192.70 h6.80 M432.10 192.70 h-6.80 M53.10 181.11 h10.20 M432.10 181.11 h-10.20 M53.10 169.52 h6.80 M432.10 169.52 h-6.80 M53.10 157.94 h6.80 M432.10 157.94 h-6.80 M53.10 146.35 h6.80 M432.10 146.35 h-6.80 M53.10 134.77 h6.80 M432.10 134.77 h-6.80 M53.10 123.18 h10.20 M432.10 123.18 h-10.20 M53.10 111.59 h6.80 M432.10 111.59 h-6.80 M53.10 100.01 h6.80 M432.10 100.01 h-6.80 M53.10 88.42 h6.80 M432.10 88.42 h-6.80 M53.10 76.84 h6.80 M432.10 76.84 h-6.80 M53.10 65.25 h10.20 M432.10 65.25 h-10.20 M53.10 53.66 h6.80 M432.10 53.66 h-6.80 M53.10 42.08 h6.80 M432.10 42.08 h-6.80 M53.10 30.49 h6.80 M432.10 30.49 h-6.80 M53.10 18.91 h6.80 M432.10 18.91 h-6.80" stroke="#000" stroke-width="1.90" fill="none"/>
<text transform="translate(42.40 361.60) scale(0.8000 1)" font-family="Liberation Serif, serif" font-size="19.50" fill="#000">4</text>
<text transform="translate(42.40 303.67) scale(0.8000 1)" font-family="Liberation Serif, serif" font-size="19.50" fill="#000">5</text>
<text transform="translate(42.40 245.74) scale(0.8000 1)" font-family="Liberation Serif, serif" font-size="19.50" fill="#000">6</text>
<text transform="translate(42.40 187.81) scale(0.8000 1)" font-family="Liberation Serif, serif" font-size="19.50" fill="#000">7</text>
<text transform="translate(42.40 129.88) scale(0.8000 1)" font-family="Liberation Serif, serif" font-size="19.50" fill="#000">8</text>
<text transform="translate(42.40 71.95) scale(0.8000 1)" font-family="Liberation Serif, serif" font-size="19.50" fill="#000">9</text>
<text transform="translate(34.60 14.02) scale(0.8000 1)" font-family="Liberation Serif, serif" font-size="19.50" fill="#000">10</text>
<text transform="translate(48.00 408.00) scale(0.6302 1)" font-family="Liberation Serif, serif" font-size="19.50" fill="#000">-1</text>
<text transform="translate(136.52 408.00) scale(0.7550 1)" font-family="Liberation Serif, serif" font-size="19.50" fill="#000">-0.5</text>
<text transform="translate(239.22 408.00) scale(0.7550 1)" font-family="Liberation Serif, serif" font-size="19.50" fill="#000">0</text>
<text transform="translate(328.45 408.00) scale(0.7550 1)" font-family="Liberation Serif, serif" font-size="19.50" fill="#000">0.5</text>
<text transform="translate(428.72 408.00) scale(0.7550 1)" font-family="Liberation Serif, serif" font-size="19.50" fill="#000">1</text>
<text transform="translate(167.30 89.90) scale(0.6437 1)" font-family="Liberation Serif, serif" font-size="19.20" fill="#000">M</text>
<text transform="translate(179.60 96.90) scale(0.6614 1)" font-family="Liberation Serif, serif" font-size="13.44" fill="#000">A</text>
<text transform="translate(190.70 90.50) scale(0.7161 1)" font-family="Liberation Serif, serif" font-size="19.20" fill="#000">=</text>
<text transform="translate(204.30 89.90) scale(0.6458 1)" font-family="Liberation Serif, serif" font-size="19.20" fill="#000">1.0</text>
<text transform="translate(224.30 89.90) scale(0.7523 1)" font-family="Liberation Serif, serif" font-size="19.20" fill="#000">GeV</text>
<text transform="translate(167.30 114.70) scale(0.6437 1)" font-family="Liberation Serif, serif" font-size="19.20" fill="#000">M</text>
<text transform="translate(179.60 121.70) scale(0.6614 1)" font-family="Liberation Serif, serif" font-size="13.44" fill="#000">A</text>
<text transform="translate(190.70 115.30) scale(0.7161 1)" font-family="Liberation Serif, serif" font-size="19.20" fill="#000">=</text>
<text transform="translate(204.30 114.70) scale(0.6458 1)" font-family="Liberation Serif, serif" font-size="19.20" fill="#000">1.1</text>
<text transform="translate(224.30 114.70) scale(0.7523 1)" font-family="Liberation Serif, serif" font-size="19.20" fill="#000">GeV</text>
<text transform="translate(167.30 139.40) scale(0.6437 1)" font-family="Liberation Serif, serif" font-size="19.20" fill="#000">M</text>
<text transform="translate(179.60 146.40) scale(0.6614 1)" font-family="Liberation Serif, serif" font-size="13.44" fill="#000">A</text>
<text transform="translate(190.70 140.00) scale(0.7161 1)" font-family="Liberation Serif, serif" font-size="19.20" fill="#000">=</text>
<text transform="translate(204.30 139.40) scale(0.6458 1)" font-family="Liberation Serif, serif" font-size="19.20" fill="#000">1.2</text>
<text transform="translate(224.30 139.40) scale(0.7523 1)" font-family="Liberation Serif, serif" font-size="19.20" fill="#000">GeV</text>
<text transform="translate(167.30 163.50) scale(0.6437 1)" font-family="Liberation Serif, serif" font-size="19.20" fill="#000">M</text>
<text transform="translate(179.60 170.50) scale(0.6614 1)" font-family="Liberation Serif, serif" font-size="13.44" fill="#000">A</text>
<text transform="translate(190.70 164.10) scale(0.7161 1)" font-family="Liberation Serif, serif" font-size="19.20" fill="#000">=</text>
<text transform="translate(204.30 163.50) scale(0.6458 1)" font-family="Liberation Serif, serif" font-size="19.20" fill="#000">1.0</text>
<text transform="translate(224.30 163.50) scale(0.7523 1)" font-family="Liberation Serif, serif" font-size="19.20" fill="#000">GeV</text>
<text transform="translate(167.30 187.60) scale(0.6437 1)" font-family="Liberation Serif, serif" font-size="19.20" fill="#000">M</text>
<text transform="translate(179.60 194.60) scale(0.6614 1)" font-family="Liberation Serif, serif" font-size="13.44" fill="#000">A</text>
<text transform="translate(190.70 188.20) scale(0.7161 1)" font-family="Liberation Serif, serif" font-size="19.20" fill="#000">=</text>
<text transform="translate(204.30 187.60) scale(0.6458 1)" font-family="Liberation Serif, serif" font-size="19.20" fill="#000">1.1</text>
<text transform="translate(224.30 187.60) scale(0.7523 1)" font-family="Liberation Serif, serif" font-size="19.20" fill="#000">GeV</text>
<text transform="translate(167.30 212.40) scale(0.6437 1)" font-family="Liberation Serif, serif" font-size="19.20" fill="#000">M</text>
<text transform="translate(179.60 219.40) scale(0.6614 1)" font-family="Liberation Serif, serif" font-size="13.44" fill="#000">A</text>
<text transform="translate(190.70 213.00) scale(0.7161 1)" font-family="Liberation Serif, serif" font-size="19.20" fill="#000">=</text>
<text transform="translate(204.30 212.40) scale(0.6458 1)" font-family="Liberation Serif, serif" font-size="19.20" fill="#000">1.2</text>
<text transform="translate(224.30 212.40) scale(0.7523 1)" font-family="Liberation Serif, serif" font-size="19.20" fill="#000">GeV</text>
<path d="M118.90 86.50 H160.40" stroke="#000" stroke-width="2.20"/>
<path d="M118.90 111.30 H160.40" stroke="#ff0000" stroke-width="2.20" stroke-dasharray="7.7 4.6"/>
<path d="M118.90 136.00 H157.90" stroke="#008a00" stroke-width="2.20" stroke-dasharray="7.7 4.6 1.54 4.6 7.7 4.6"/>
<path d="M118.90 160.10 H160.40" stroke="#000" stroke-width="2.20"/>
<path d="M118.90 184.20 H160.40" stroke="#ff0000" stroke-width="2.20" stroke-dasharray="10.8 4.6"/>
<path d="M118.90 209.00 H160.40" stroke="#008a00" stroke-width="2.20" stroke-dasharray="7.7 4.6 1.54 4.6 7.7 4.6"/>
<ellipse cx="118.90" cy="160.10" rx="3.0" ry="3.7" fill="#000"/>
<ellipse cx="160.40" cy="160.10" rx="3.0" ry="3.7" fill="#000"/>
<rect x="116.60" y="181.10" width="4.6" height="6.2" fill="#ff0000"/>
<rect x="158.10" y="181.10" width="4.6" height="6.2" fill="#ff0000"/>
<path d="M118.90 205.16 L115.90 211.36 L121.90 211.36 Z" fill="#008a00"/>
<path d="M160.40 205.16 L157.40 211.36 L163.40 211.36 Z" fill="#008a00"/>
<text transform="translate(327.30 104.60) scale(0.7155 1)" font-family="Liberation Serif, serif" font-size="26.71" fill="#000">ν</text>
<text transform="translate(337.10 113.60) scale(0.7086 1)" font-family="Liberation Serif, serif" font-size="17.64" fill="#000">e</text>
<text transform="translate(363.60 239.70) scale(0.7117 1)" font-family="Liberation Serif, serif" font-size="28.73" fill="#000">ν</text>
<text transform="translate(373.60 250.00) scale(0.6430 1)" font-family="Liberation Serif, serif" font-size="20.16" fill="#000">μ</text>
<text transform="translate(208.70 287.20) scale(0.7591 1)" font-family="Liberation Serif, serif" font-size="17.39" fill="#000">40</text>
<text transform="translate(222.80 301.90) scale(0.7150 1)" font-family="Liberation Serif, serif" font-size="25.20" fill="#000">Ar</text>
<text transform="translate(166.80 334.10) scale(0.6896 1)" font-family="Liberation Serif, serif" font-size="25.20" fill="#000">E</text>
<text transform="translate(178.00 343.80) scale(0.7716 1)" font-family="Liberation Serif, serif" font-size="20.16" fill="#000">ν</text>
<text transform="translate(189.80 335.00) scale(0.7511 1)" font-family="Liberation Serif, serif" font-size="25.20" fill="#000">=</text>
<text transform="translate(205.60 334.10) scale(0.7434 1)" font-family="Liberation Serif, serif" font-size="25.20" fill="#000">236</text>
<text transform="translate(239.50 334.10) scale(0.7397 1)" font-family="Liberation Serif, serif" font-size="25.20" fill="#000">MeV</text>
<text transform="translate(225.80 426.80) scale(0.6748 1)" font-family="Liberation Serif, serif" font-size="24.40" fill="#000">cos</text>
<text transform="translate(248.20 426.80) scale(0.7528 1)" font-family="Liberation Serif, serif" font-size="22.69" fill="#000">θ</text>
<text transform="translate(257.00 434.40) scale(0.5714 1)" font-family="Liberation Serif, serif" font-size="15.00" fill="#000">l</text>
<text transform="translate(27.60 344.00) rotate(-90) scale(1.0487 0.8600)" font-family="Liberation Serif, serif" font-size="29.00" fill="#000">dσ/dcos</text>
<text transform="translate(27.60 246.50) rotate(-90) scale(1.0632 0.8600)" font-family="Liberation Serif, serif" font-size="29.00" fill="#000">θ</text>
<text transform="translate(36.90 229.80) rotate(-90) scale(0.5630 0.8600)" font-family="Liberation Serif, serif" font-size="20.30" fill="#000">l</text>
<text transform="translate(27.60 216.80) rotate(-90) scale(1.0682 0.8600)" font-family="Liberation Serif, serif" font-size="29.00" fill="#000">(10</text>
<text transform="translate(14.40 174.00) rotate(-90) scale(0.9260 0.8600)" font-family="Liberation Serif, serif" font-size="20.30" fill="#000">-40</text>
<text transform="translate(27.60 138.30) rotate(-90) scale(1.0062 0.8600)" font-family="Liberation Serif, serif" font-size="29.00" fill="#000">cm</text>
<text transform="translate(14.40 102.00) rotate(-90) scale(0.9557 0.8600)" font-family="Liberation Serif, serif" font-size="20.30" fill="#000">2</text>
<text transform="translate(27.60 93.20) rotate(-90) scale(1.0837 0.8600)" font-family="Liberation Serif, serif" font-size="29.00" fill="#000">/sr)</text>
</svg></body></html>
